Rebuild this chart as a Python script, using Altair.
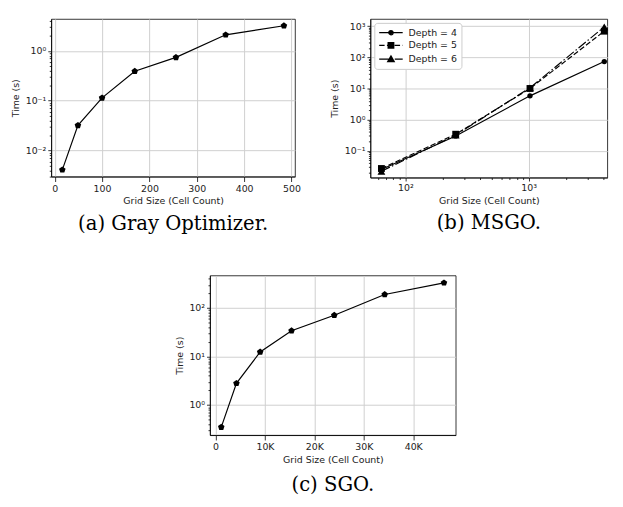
import altair as alt
import pandas as pd

# ---------------- data ----------------
a_x = [16, 49, 100, 169, 256, 361, 484]
a_y = [0.0041, 0.032, 0.114, 0.39, 0.74, 2.1, 3.2]

b_x = [64, 256, 1024, 4096]
b_depths = ["Depth = 4", "Depth = 5", "Depth = 6"]
b_d4 = [0.025, 0.30, 5.8, 73]
b_d5 = [0.027, 0.34, 10.0, 690]
b_d6 = [0.022, 0.32, 10.5, 950]

c_x = [1156, 4225, 9025, 15376, 24025, 34225, 46225]
c_y = [0.35, 2.8, 12.4, 34, 71, 190, 330]

a_xticks = [0, 100, 200, 300, 400, 500]
c_xticks = [0, 10000, 20000, 30000, 40000]

captions = ["(a) Gray Optimizer.", "(b) MSGO.", "(c) SGO."]

df_a = pd.DataFrame({"x": a_x, "y": a_y})
df_c = pd.DataFrame({"x": c_x, "y": c_y})
rows = []
for d, vals in zip(b_depths, [b_d4, b_d5, b_d6]):
    for xv, yv in zip(b_x, vals):
        rows.append({"x": xv, "y": yv, "depth": d})
df_b = pd.DataFrame(rows)

# ---------------- helpers ----------------
PENTAGON = "M0,-1L0.951,-0.309L0.588,0.809L-0.588,0.809L-0.951,-0.309Z"
E = "round(log(datum.value)/LN10)"
MAJOR = f"abs(log(datum.value)/LN10 - {E}) < 0.001"
SUP = "['\u2070','\u00b9','\u00b2','\u00b3','\u2074','\u2075','\u2076','\u2077','\u2078','\u2079']"
LOG_LABEL = f"{MAJOR} ? '10' + ({E} < 0 ? '\u207b' : '') + {SUP}[abs({E})] : ''"


def log_ticks(lo, hi):
    vals = []
    for e in range(lo, hi + 1):
        for k in range(1, 10):
            vals.append(round(k * 10 ** e, 6))
    return vals


def log_axis(title, lo, hi, **kw):
    return alt.Axis(
        title=title,
        values=log_ticks(lo, hi),
        labelExpr=LOG_LABEL,
        tickSize={"condition": {"test": MAJOR, "value": 3.5}, "value": 2},
        gridOpacity={"condition": {"test": MAJOR, "value": 1}, "value": 0},
        **kw,
    )


cap_font = dict(font="DejaVu Serif", fontSize=20, fontWeight="normal",
                color="black", orient="bottom", anchor="middle", baseline="top")

# ---------------- (a) ----------------
a_line = alt.Chart(df_a).mark_line(color="black", strokeWidth=1.2).encode(
    x=alt.X("x:Q", scale=alt.Scale(domain=[-7.4, 507.4], nice=False, zero=False),
            axis=alt.Axis(values=a_xticks, title="Grid Size (Cell Count)", titlePadding=3)),
    y=alt.Y("y:Q", scale=alt.Scale(type="log", domain=[0.0030, 4.37], nice=False),
            axis=log_axis("Time (s)", -3, 0, titlePadding=5)),
)
a_pts = a_line.mark_point(shape=PENTAGON, filled=True, size=49, color="black", opacity=1)
chart_a = alt.layer(a_line, a_pts).properties(
    width=249, height=161, title=alt.TitleParams(captions[0], offset=9, **cap_font))

# ---------------- (b) ----------------
# legend symbols (stroked only): line segment with dash pattern + solid-looking marker
def _f(v):
    return f"{v:.3f}".rstrip("0").rstrip(".")


def circ(cx, r):
    return (f"M{_f(cx + r)},0A{_f(r)},{_f(r)},0,1,1,{_f(cx - r)},0"
            f"A{_f(r)},{_f(r)},0,1,1,{_f(cx + r)},0Z")


def sq(cx, h):
    return (f"M{_f(cx - h)},{_f(-h)}L{_f(cx + h)},{_f(-h)}L{_f(cx + h)},{_f(h)}"
            f"L{_f(cx - h)},{_f(h)}Z")


def tri(f):
    c = (1.4, 0.133)
    pts = [(1.4, -0.8), (2.2, 0.6), (0.6, 0.6)]
    p = [(c[0] + f * (x - c[0]), c[1] + f * (y - c[1])) for x, y in pts]
    return f"M{_f(p[0][0])},{_f(p[0][1])}L{_f(p[1][0])},{_f(p[1][1])}L{_f(p[2][0])},{_f(p[2][1])}Z"


L4 = "M-1,0L3.8,0" + circ(1.4, 0.44) + circ(1.4, 0.2) + circ(1.4, 0.04)
L5 = ("M-1,0L0.1,0M0.58,0L1.68,0M2.16,0L3.26,0M3.74,0L3.8,0"
      + sq(1.4, 0.58) + sq(1.4, 0.34) + sq(1.4, 0.1))
L6 = ("M-1,0L0.92,0M1.4,0L1.7,0M2.18,0L3.8,0"
      + tri(0.85) + tri(0.55) + tri(0.25))
b_shapes = ["circle", "square", "triangle-up"]
b_sizes = [30, 49, 64]
b_dashes = [None, [5.5, 2.4], [9.6, 2.4, 1.5, 2.4]]

bx = alt.X("x:Q", scale=alt.Scale(type="log", domain=[52.1, 4335], nice=False),
           axis=log_axis("Grid Size (Cell Count)", 1, 3, titlePadding=3))
by = alt.Y("y:Q", scale=alt.Scale(type="log", domain=[0.0138, 1700], nice=False),
           axis=log_axis("Time (s)", -2, 3, titlePadding=5))

b_layers = []
for d, shp, sz, dash in zip(b_depths, b_shapes, b_sizes, b_dashes):
    base = alt.Chart(df_b).transform_filter(alt.datum.depth == d)
    line_kw = dict(color="black", strokeWidth=1.2)
    if dash:
        line_kw["strokeDash"] = dash
    b_layers.append(base.mark_line(**line_kw).encode(x=bx, y=by))
    b_layers.append(
        base.mark_point(shape=shp, size=sz, filled=True, color="black", opacity=1)
        .encode(x=bx, y=by)
    )
b_ghost = alt.Chart(df_b).mark_point(
    filled=False, color="black", strokeWidth=1.2, opacity=0
).encode(
    x=bx, y=by,
    shape=alt.Shape("depth:N", scale=alt.Scale(domain=b_depths, range=[L4, L5, L6]),
                    legend=alt.Legend(
                        title=None, orient="top-left", offset=4, padding=4,
                        rowPadding=2, labelOffset=19, symbolSize=100,
                        symbolStrokeColor="black", symbolStrokeWidth=1.2, symbolOpacity=1,
                        labelFont="DejaVu Sans", labelFontSize=9.6, labelColor="#222",
                        fillColor="white", strokeColor="#cccccc", cornerRadius=3)),
)
b_layers.append(b_ghost)
chart_b = alt.layer(*b_layers).properties(
    width=242, height=162, title=alt.TitleParams(captions[1], offset=9, **cap_font))

# ---------------- (c) ----------------
c_line = alt.Chart(df_c).mark_line(color="black", strokeWidth=1.2).encode(
    x=alt.X("x:Q", scale=alt.Scale(domain=[-1130, 48600], nice=False, zero=False),
            axis=alt.Axis(values=c_xticks, title="Grid Size (Cell Count)", titlePadding=3,
                          labelExpr="datum.value == 0 ? '0' : (datum.value/1000) + 'K'")),
    y=alt.Y("y:Q", scale=alt.Scale(type="log", domain=[0.24, 468], nice=False),
            axis=log_axis("Time (s)", -1, 2, titlePadding=5)),
)
c_pts = c_line.mark_point(shape=PENTAGON, filled=True, size=49, color="black", opacity=1)
chart_c = alt.layer(c_line, c_pts).properties(
    width=251, height=163, title=alt.TitleParams(captions[2], offset=12, **cap_font))

top_row = alt.hconcat(chart_a, chart_b, spacing=28).resolve_legend(shape="independent")
chart = alt.vconcat(
    top_row, chart_c, spacing=41, center=True,
).resolve_legend(shape="independent").properties(
    padding={"left": 2, "top": 5, "right": 0, "bottom": -6},
).configure_view(
    stroke="black", strokeWidth=0.8,
).configure_axis(
    labelFont="DejaVu Sans", labelFontSize=9.6, labelColor="#222", labelPadding=2,
    titleFont="DejaVu Sans", titleFontSize=9.6, titleFontWeight="normal", titleColor="#222",
    tickColor="black", tickWidth=0.8, domainColor="black", domainWidth=0.8,
    gridColor="#cfcfcf", gridWidth=1,
)

chart.save("out.html", embed_options={"renderer": "svg", "actions": False})
